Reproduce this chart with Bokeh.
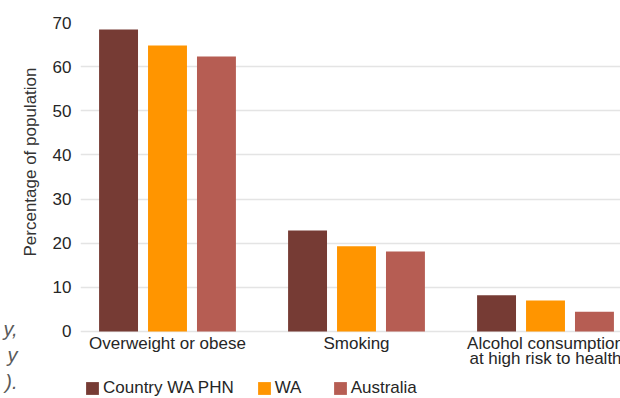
from bokeh.core.properties import value
from bokeh.embed import file_html
from bokeh.models import (ColumnDataSource, FixedTicker, Legend, LegendItem,
                          LinearAxis, Range1d, Title)
from bokeh.plotting import figure
from bokeh.resources import INLINE

# Risk factor prevalence, percentage of population
categories = ["Overweight or obese", "Smoking",
              "Alcohol consumption\nat high risk to health"]
series_names = ["Country WA PHN", "WA", "Australia"]
country_wa_phn = [68.4, 22.9, 8.2]
wa = [64.8, 19.3, 7.0]
australia = [62.3, 18.1, 4.5]
y_ticks = [0, 10, 20, 30, 40, 50, 60, 70]

# end of the caption text running alongside the chart
caption_tail = ["y,", "y", ")."]
caption_pos = [0.5, -5.3, -11.4]

colors = ["#763b34", "#ff9500", "#b65d53"]
offsets = [-0.259, 0.0, 0.259]
bar_width = 0.206
label_drop = -0.68          # category labels hang just under the zero line
FONT = "Liberation Sans"

p = figure(width=620, height=398, output_backend="svg", toolbar_location=None,
           x_axis_location=None,
           x_range=Range1d(-0.4603, 2.3968), y_range=Range1d(-15.18, 70),
           min_border_left=80, min_border_right=0, min_border_top=22,
           min_border_bottom=0)
p.outline_line_color = None
p.background_fill_color = "white"
p.border_fill_color = "white"
for g in p.xgrid:
    g.visible = False

p.ygrid.grid_line_color = "#e4e4e4"
p.ygrid.grid_line_width = 1.5

renderers = []
for values, name, color, off in zip([country_wa_phn, wa, australia],
                                    series_names, colors, offsets):
    src = ColumnDataSource(dict(x=[i + off for i in range(len(categories))],
                                top=values))
    r = p.vbar(x="x", top="top", width=bar_width, source=src,
               fill_color=color, line_color=None)
    renderers.append((name, r))

# category names under each group
cat_src = ColumnDataSource(dict(x=list(range(len(categories))),
                                y=[label_drop] * len(categories),
                                text=categories))
p.text(x="x", y="y", text="text", source=cat_src, text_align="center",
       text_baseline="top", text_font=value(FONT), text_font_size="17px",
       text_color="#262626", text_line_height=0.75)

# y axis
p.yaxis.ticker = FixedTicker(ticks=y_ticks)
p.yaxis.axis_line_color = None
p.yaxis.major_tick_line_color = None
p.yaxis.minor_tick_line_color = None
p.yaxis.major_tick_out = 0
p.yaxis.major_tick_in = 0
p.yaxis.major_label_standoff = 9
p.yaxis.major_label_text_font = FONT
p.yaxis.major_label_text_font_size = "17px"
p.yaxis.major_label_text_color = "#262626"

# y axis title, in the left panel
p.add_layout(Title(text="Percentage of population", align="right",
                   offset=45, standoff=20, text_font=FONT,
                   text_font_size="17px", text_font_style="normal",
                   text_color="#333333"), "left")

# caption fragments at the far left; the negative standoff lets the
# labels sit over the free space next to the axis title
cap_axis = LinearAxis(ticker=FixedTicker(ticks=caption_pos),
                      major_label_overrides=dict(zip(caption_pos, caption_tail)),
                      axis_line_color=None, major_tick_line_color=None,
                      minor_tick_line_color=None, major_tick_out=0,
                      major_tick_in=0, major_label_standoff=-9,
                      major_label_text_font=FONT,
                      major_label_text_font_style="italic",
                      major_label_text_font_size="20px",
                      major_label_text_color="#5a5a5a")
p.add_layout(cap_axis, "left")

legend = Legend(items=[LegendItem(label=n, renderers=[r]) for n, r in renderers],
                orientation="horizontal", location=(4, 0),
                glyph_width=16, glyph_height=16, label_height=16,
                label_standoff=3, label_width=35, spacing=22, padding=0,
                margin=0, border_line_color=None, background_fill_alpha=0,
                label_text_font=FONT, label_text_font_size="17px",
                label_text_color="#262626")
p.add_layout(legend)

open("out.html", "w").write(file_html(p, INLINE))
